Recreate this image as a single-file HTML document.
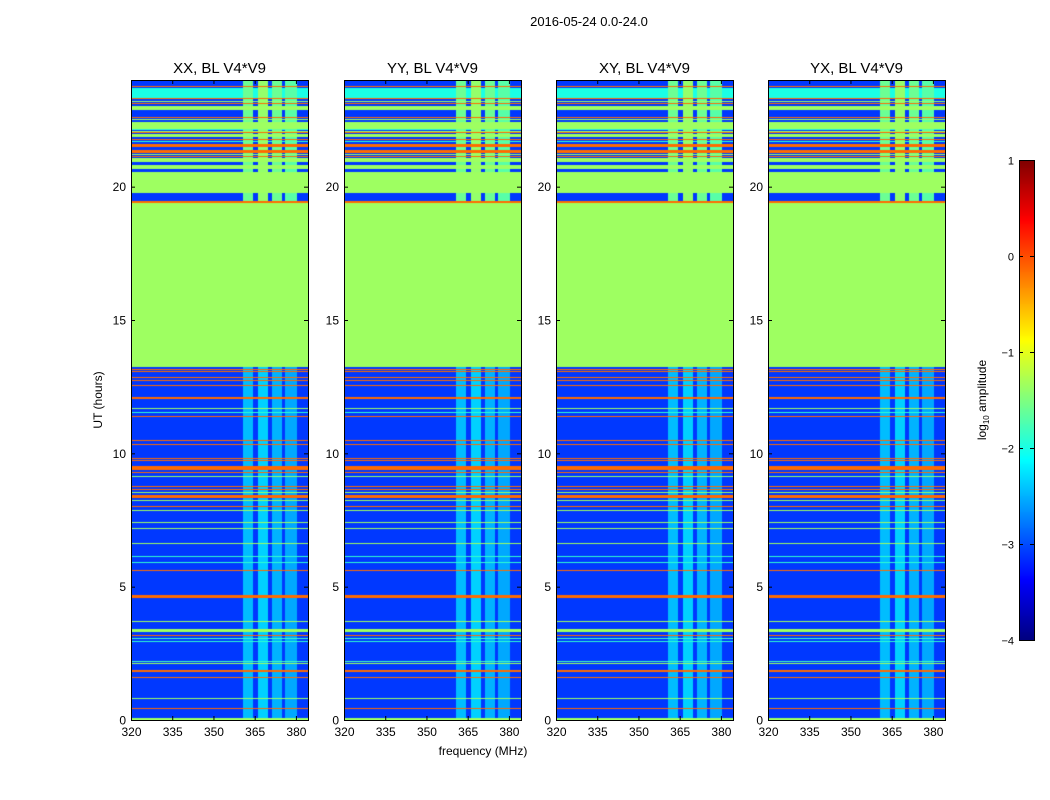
<!DOCTYPE html>
<html><head><meta charset="utf-8">
<style>
body{margin:0;background:#fff;width:1050px;height:800px;overflow:hidden;position:relative;font-family:"Liberation Sans",sans-serif}
canvas{position:absolute}
svg{position:absolute;left:0;top:0}
</style></head>
<body>
<canvas id="c0" width="177" height="640" style="left:131px;top:80px"></canvas>
<canvas id="c1" width="177" height="640" style="left:344px;top:80px"></canvas>
<canvas id="c2" width="177" height="640" style="left:556px;top:80px"></canvas>
<canvas id="c3" width="177" height="640" style="left:768px;top:80px"></canvas>
<canvas id="cb" width="15" height="480" style="left:1019px;top:160px"></canvas>
<svg id="ov" width="1050" height="800"></svg>
<script>
// time-row segments: hour start, hour end, log10 amplitude
const rowStart=[0.0,0.41,0.79,1.57,1.8,2.1,2.17,2.92,3.04,3.15,3.3,3.67,4.57,5.59,5.89,6.11,6.6,7.16,7.39,7.84,7.99,8.21,8.33,8.51,8.62,8.74,9.11,9.26,9.37,9.42,9.71,9.79,10.31,10.46,11.36,11.51,11.66,12.03,12.52,12.71,12.82,13.05,13.12,13.24,19.4,19.76,20.66,20.92,21.11,21.18,21.26,21.48,21.67,21.75,21.86,22.01,22.05,22.12,22.16,22.5,22.57,22.87,23.1,23.17,23.28,23.32,23.73];
const rowEnd  =[0.08,0.45,0.83,1.61,1.88,2.14,2.21,2.96,3.08,3.19,3.4,3.71,4.67,5.63,5.93,6.15,6.64,7.2,7.43,7.88,8.03,8.25,8.43,8.55,8.66,8.78,9.15,9.3,9.41,9.52,9.75,9.83,10.35,10.5,11.4,11.55,11.7,12.13,12.56,12.75,12.86,13.09,13.16,19.4,19.46,20.55,20.81,21.07,21.15,21.22,21.37,21.6,21.71,21.79,21.97,22.05,22.09,22.16,22.42,22.54,22.61,23.02,23.14,23.21,23.32,23.7,23.77];
const rowLevel=[-1.35,-0.15,-1.35,-0.15,-0.15,-1.35,-1.8,-1.9,-1.8,-0.15,-1.35,-1.35,-0.15,-0.15,-1.9,-1.9,-1.35,-1.35,-1.35,-1.35,-0.15,-1.35,-0.15,-1.35,-0.15,-0.15,-1.35,-0.15,-0.15,-0.15,-0.15,-0.15,-0.15,-0.15,-0.15,-1.9,-1.35,-0.15,-0.15,-0.15,-0.15,-0.15,-0.15,-1.35,-0.15,-1.35,-1.35,-1.35,-0.15,-1.35,-0.15,-0.15,-1.9,-0.15,-1.35,-0.15,-1.35,-1.9,-1.35,-1.35,-0.15,-1.35,-0.15,-1.35,-0.15,-2.0,-0.15];
const background=-3.1;
// frequency bands (MHz) and levels in lower / upper time regions
const bandLo=[360.7,366.1,371.2,375.9];
const bandHi=[364.3,369.8,374.8,380.3];
const bandLevelLow=[-2.45,-2.35,-2.5,-2.55];
const bandLevelHigh=[-1.6,-1.4,-1.6,-1.7];
const splitHour=16;
const fMin=320,fMax=384.4,tMin=0,tMax=24,vMin=-4,vMax=1;
const xTicks=[320,335,350,365,380];
const yTicks=[0,5,10,15,20];
const cbTicks=[1,0,-1,-2,-3,-4];
const titles=["XX, BL V4*V9","YY, BL V4*V9","XY, BL V4*V9","YX, BL V4*V9"];
const panelLeft=[131,344,556,768];

function jet(v){let t=(v-vMin)/(vMax-vMin);t=Math.max(0,Math.min(1,t));
 const c=x=>Math.round(255*Math.max(0,Math.min(1,x)));
 return [c(1.5-Math.abs(4*t-3)),c(1.5-Math.abs(4*t-2)),c(1.5-Math.abs(4*t-1))];}
const W=177,H=640;
const fx=f=>(f-fMin)/(fMax-fMin)*W;
const ty=h=>H-(h-tMin)/(tMax-tMin)*H;
for(let p=0;p<4;p++){
 const ctx=document.getElementById('c'+p).getContext('2d');
 const img=ctx.createImageData(W,H);
 for(let y=0;y<H;y++){
  const h=tMax-(y+0.5)/H*(tMax-tMin);
  let v=background;
  for(let i=0;i<rowStart.length;i++) if(h>=rowStart[i]&&h<rowEnd[i]) v=rowLevel[i];
  for(let x=0;x<W;x++){
   const f=fMin+(x+0.5)/W*(fMax-fMin);
   let vv=v;
   for(let b=0;b<bandLo.length;b++){
    if(f>=bandLo[b]&&f<bandHi[b]){
     const bl=h<splitHour?bandLevelLow[b]:bandLevelHigh[b];
     if(h<13.24||h>=19.4) vv=Math.max(vv,bl);
    }}
   const c=jet(vv);const k=(y*W+x)*4;
   img.data[k]=c[0];img.data[k+1]=c[1];img.data[k+2]=c[2];img.data[k+3]=255;
  }}
 ctx.putImageData(img,0,0);
}
{const ctx=document.getElementById('cb').getContext('2d');
 for(let y=0;y<480;y++){const v=vMax-(y+0.5)/480*(vMax-vMin);const c=jet(v);
  ctx.fillStyle=`rgb(${c[0]},${c[1]},${c[2]})`;ctx.fillRect(0,y,15,1);}}

const svg=document.getElementById('ov');const NS='http://www.w3.org/2000/svg';
function mk(tag,attrs,txt){const e=document.createElementNS(NS,tag);for(const k in attrs)e.setAttribute(k,attrs[k]);if(txt!==undefined)e.textContent=txt;svg.appendChild(e);return e;}
let t=mk('text',{x:589,y:26,'font-size':13,'text-anchor':'middle'},'2016-05-24 0.0-24.0');


for(let p=0;p<4;p++){
 const L=panelLeft[p],T=80;
 let r=mk('rect',{x:L+0.5,y:T+0.5,width:W,height:H,fill:'none',stroke:'#000','stroke-width':1});
 
 
 let tt=mk('text',{x:L+W/2,y:T-7,'font-size':15,'text-anchor':'middle'},titles[p]);
 
 
 xTicks.forEach(f=>{const x=L+fx(f)+0.5;
  mk('line',{x1:x,x2:x,y1:T+H,y2:T+H-4,stroke:'#000'});mk('line',{x1:x,x2:x,y1:T,y2:T+4,stroke:'#000'});
  let l=mk('text',{x:x,y:T+H+16,'font-size':12,'text-anchor':'middle'},String(f));
  
  });
 yTicks.forEach(h=>{const y=T+ty(h)+0.5;
  mk('line',{x1:L,x2:L+4,y1:y,y2:y,stroke:'#000'});mk('line',{x1:L+W,x2:L+W-4,y1:y,y2:y,stroke:'#000'});
  let l=mk('text',{x:L-5,y:y+4,'font-size':12,'text-anchor':'end'},String(h));
  
  });
}
let xl=mk('text',{x:483,y:755,'font-size':12,'text-anchor':'middle'},'frequency (MHz)');


let yl=mk('text',{x:102,y:400,'font-size':12,'text-anchor':'middle',transform:'rotate(-90 102 400)'},'UT (hours)');


let cf=mk('rect',{x:1019.5,y:160.5,width:15,height:480,fill:'none',stroke:'#000'});


cbTicks.forEach(v=>{const y=160+(vMax-v)/(vMax-vMin)*480+0.5;
 mk('line',{x1:1019,x2:1023,y1:y,y2:y,stroke:'#000'});mk('line',{x1:1034,x2:1030,y1:y,y2:y,stroke:'#000'});
 let l=mk('text',{x:1014,y:y+4,'font-size':11,'text-anchor':'end'},v<0?'\u2212'+(-v):String(v));
 
 });
let cl=mk('text',{x:986,y:400,'font-size':12,'text-anchor':'middle',transform:'rotate(-90 986 400)'});


cl.innerHTML='log<tspan font-size="8" dy="3">10</tspan><tspan dy="-3"> amplitude</tspan>';
</script>
</body></html>
